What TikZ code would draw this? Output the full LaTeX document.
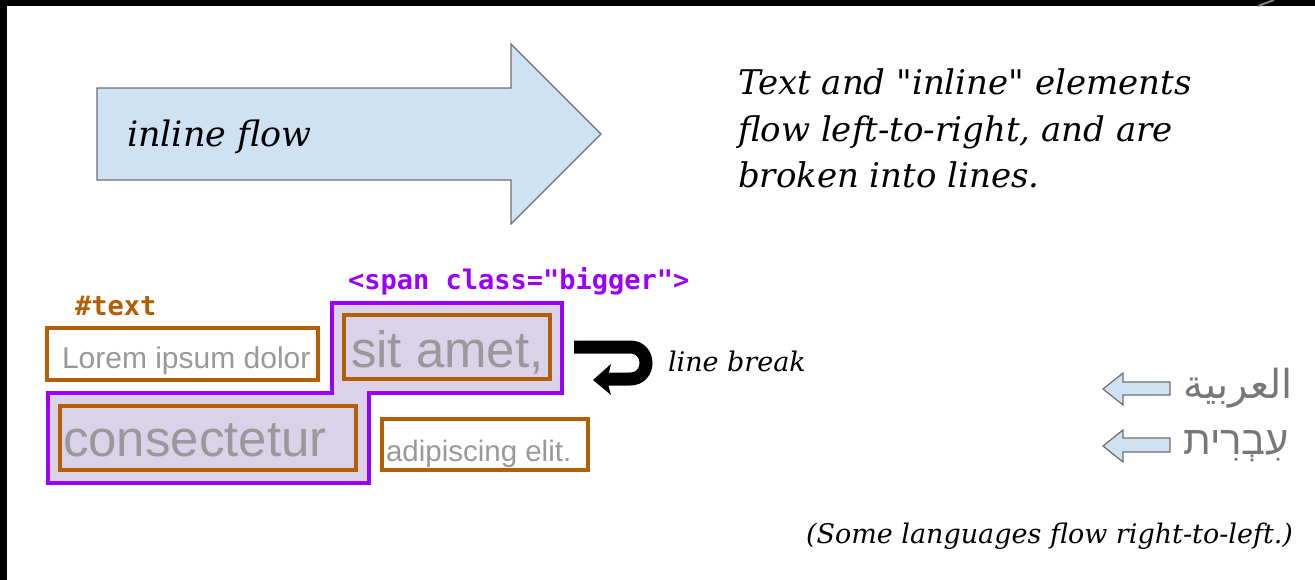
\documentclass[tikz,border=0pt]{standalone}
\usepackage{fontspec}
\newfontfamily\notefont{DejaVu Serif}
\newfontfamily\sansf{Liberation Sans}
\newfontfamily\codef{DejaVu Sans Mono}
\newfontfamily\hebrewfont[Script=Hebrew]{Liberation Sans}
\newfontfamily\arabicfont[Script=Arabic]{DejaVu Sans}
\TeXXeTstate=1

\definecolor{boxorange}{HTML}{B45F06}
\definecolor{spanpurple}{HTML}{9900FF}
\definecolor{spanfill}{HTML}{D9D2E9}
\definecolor{flowblue}{HTML}{CFE2F3}
\definecolor{flowedge}{HTML}{707070}
\definecolor{wordgray}{HTML}{999999}
\definecolor{scriptgray}{HTML}{777777}

\tikzset{
  every node/.style={inner sep=0pt, outer sep=0pt},
  note/.style={anchor=base west, font=\notefont\itshape\fontsize{34}{40}\selectfont},
  wordbox/.style={draw=boxorange, line width=4pt, rectangle},
  word/.style={anchor=base west, text=wordgray},
  codelabel/.style={anchor=base west, font=\codef\bfseries\fontsize{27}{30}\selectfont},
  flowarrow/.style={fill=flowblue, draw=flowedge, line width=1.2pt, line join=miter},
  rtltext/.style={anchor=base east, text=scriptgray},
}

\begin{document}
\begin{tikzpicture}[x=1pt, y=-1pt]
  \useasboundingbox (0,0) rectangle (1315,580);
  \fill[white] (0,0) rectangle (1315,580);
  % frame edges
  \fill[black] (0,0) rectangle (1315,6);
  \fill[black] (0,0) rectangle (7,580);
  \draw[gray, line width=2pt] (1258,6) -- (1274,0);

  % big inline-flow arrow
  \draw[flowarrow] (97,88) -- (511,88) -- (511,44) -- (601,134) -- (511,224)
    -- (511,180) -- (97,180) -- cycle;
  \node[note, font=\notefont\itshape\fontsize{35}{40}\selectfont] (flow) at (127,147) {inline flow};

  % explanation
  \node[note] (l1) at (738,95) {Text and "inline" elements};
  \node[note] (l2) at (738,142) {flow left-to-right, and are};
  \node[note] (l3) at (738,188) {broken into lines.};

  % span outline across the two lines
  \draw[fill=spanfill, draw=spanpurple, line width=4pt, line join=miter]
    (332,303) -- (562,303) -- (562,393) -- (369,393) -- (369,483)
    -- (48,483) -- (48,393) -- (332,393) -- cycle;
  \node[codelabel, text=spanpurple] (spanlbl) at (348,290) {<span class="bigger">};
  \node[codelabel, text=boxorange] (textlbl) at (75,315) {\#text};

  % text runs
  \node[wordbox, fill=white, minimum width=271pt, minimum height=52pt] (lorem) at (182.5,354) {};
  \node[wordbox, minimum width=206pt, minimum height=64pt] (sit) at (447,347) {};
  \node[wordbox, minimum width=296pt, minimum height=64pt] (cons) at (208,438) {};
  \node[wordbox, fill=white, minimum width=206pt, minimum height=51pt] (adip) at (485,444.5) {};

  \node[word, font=\sansf\fontsize{30}{34}\selectfont] (loremt) at (62,368) {Lorem ipsum dolor};
  \node[word, font=\sansf\fontsize{51}{56}\selectfont] (sitt) at (351,367) {sit amet,};
  \node[word, font=\sansf\fontsize{51}{56}\selectfont] (const) at (63,456) {consectetur};
  \node[word, font=\sansf\fontsize{29.5}{33}\selectfont] (adipt) at (386,461) {adipiscing elit.};

  % line break symbol
  \draw[line width=13pt] (574,347) -- (630,347)
    .. controls (651.3,347) and (651.3,379) .. (630,379) -- (606,379);
  \fill (593,380) -- (611,364) -- (607,380) -- (611,395) -- cycle;
  \node[note, font=\notefont\itshape\fontsize{27}{32}\selectfont] (brk) at (668,371) {line break};

  % right-to-left scripts
  \draw[flowarrow] (1103,389) -- (1123,373) -- (1123,382) -- (1170,382)
    -- (1170,395) -- (1123,395) -- (1123,405) -- cycle;
  \draw[flowarrow] (1103,446) -- (1123,430) -- (1123,438) -- (1170,438)
    -- (1170,452) -- (1123,452) -- (1123,462) -- cycle;
  \node[rtltext, font=\arabicfont\fontsize{40}{44}\selectfont] (arab) at (1293,398) {\beginR العربية\endR};
  \node[rtltext, font=\hebrewfont\fontsize{40}{44}\selectfont] (hebr) at (1289,454) {\beginR עִבְרִית\endR};

  \node[note, font=\notefont\itshape\fontsize{27}{32}\selectfont] (rtl) at (806,543) {(Some languages flow right-to-left.)};
\end{tikzpicture}
\end{document}
